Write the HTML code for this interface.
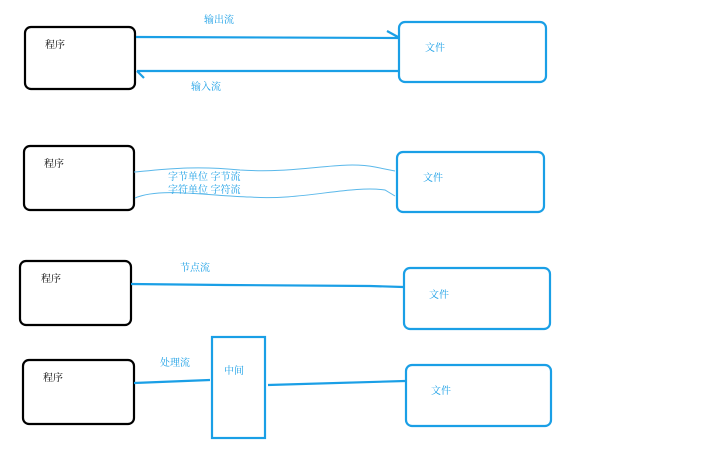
<!DOCTYPE html>
<html><head><meta charset="utf-8"><style>
html,body{margin:0;padding:0;background:#fff;width:721px;height:461px;overflow:hidden}
text{font-family:"Liberation Serif","Noto Serif CJK SC","Noto Sans CJK SC",serif;font-size:10px}
</style></head><body>
<svg width="721" height="461" xmlns="http://www.w3.org/2000/svg">
<g fill="none" stroke="#000" stroke-width="2.2">
<rect x="25" y="27" width="110" height="62" rx="6"/>
<rect x="24" y="146" width="110" height="64" rx="6"/>
<rect x="20" y="261" width="111" height="64" rx="6"/>
<rect x="23" y="360" width="111" height="64" rx="6"/>
</g>
<g fill="none" stroke="#1a9fe6" stroke-width="2.2">
<rect x="399" y="22" width="147" height="60" rx="6"/>
<rect x="397" y="152" width="147" height="60" rx="6"/>
<rect x="404" y="268" width="146" height="61" rx="6"/>
<rect x="406" y="365" width="145" height="61" rx="6"/>
<rect x="212" y="337" width="53" height="101"/>
<path d="M136 37 L399 38 M387 31 L398 37"/>
<path d="M398 71 L137 71 M137 71 L144 78"/>
<path d="M131 284 L225 285 L370 286 L403 287"/>
<path d="M134 383 L210 380"/>
<path d="M268 385 L405 381"/>
</g>
<g fill="none" stroke="#5ab8ea" stroke-width="1">
<path d="M134 172 C160 170,190 165,240 170 C300 174,340 160,375 167 L395 171"/>
<path d="M135 198 C160 187,210 196,250 197 C300 201,350 185,385 190 L395 196"/>
</g>
<g fill="#000">
<text x="45" y="48">程序</text>
<text x="44" y="167">程序</text>
<text x="41" y="282">程序</text>
<text x="43" y="381">程序</text>
</g>
<g fill="#1a9fe6">
<text x="204" y="23">输出流</text>
<text x="191" y="90">输入流</text>
<text x="425" y="51">文件</text>
<text x="423" y="181">文件</text>
<text x="429" y="298">文件</text>
<text x="431" y="394">文件</text>
<text x="168" y="180">字节单位  字节流</text>
<text x="168" y="193">字符单位  字符流</text>
<text x="180" y="271">节点流</text>
<text x="160" y="366">处理流</text>
<text x="224" y="374">中间</text>
</g>
</svg>
</body></html>
